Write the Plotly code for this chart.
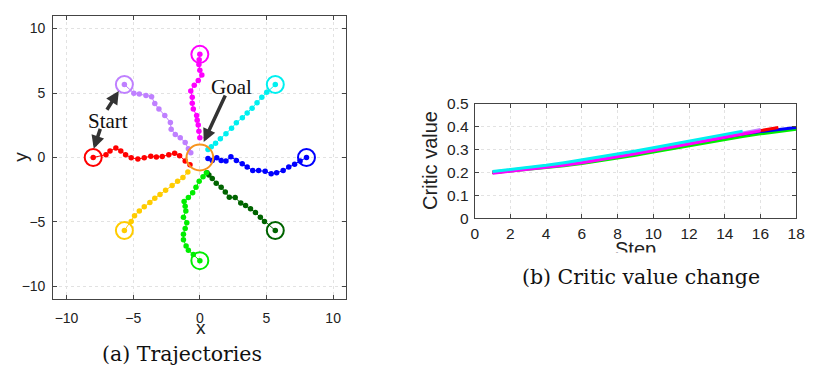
import plotly.graph_objects as go

# ---------------- Trajectory data (a) ----------------
red_x = [-8.0, -7.04, -6.74, -6.30, -5.93, -5.57, -5.15, -4.65, -4.17, -3.68, -3.26, -2.82, -2.33, -1.89, -1.52, -1.10, -0.74]
red_y = [0.0, 0.22, 0.50, 0.74, 0.50, 0.22, -0.02, -0.12, -0.02, 0.10, 0.03, 0.07, 0.22, 0.33, 0.13, -0.27, -0.56]

purple_x = [-5.66, -4.95, -4.54, -4.04, -3.62, -3.38, -3.07, -2.63, -2.21, -2.15, -1.84, -1.47, -1.10, -0.86, -0.68]
purple_y = [5.66, 4.99, 4.92, 4.81, 4.72, 4.18, 3.76, 3.26, 2.72, 2.20, 1.78, 1.53, 1.16, 0.67, 0.37]

magenta_x = [0.0, -0.05, -0.07, 0.0, 0.15, -0.12, -0.42, -0.68, -0.57, -0.57, -0.49, -0.24, -0.20, -0.12, -0.07, 0.0]
magenta_y = [8.0, 7.58, 7.21, 6.77, 6.40, 5.98, 5.61, 5.16, 4.67, 4.20, 3.76, 3.26, 2.89, 2.52, 2.03, 1.53]

cyan_x = [5.66, 5.02, 4.65, 4.29, 3.92, 3.55, 3.19, 2.74, 2.38, 1.96, 1.54, 1.18, 0.86, 0.61]
cyan_y = [5.66, 5.07, 4.67, 4.25, 3.83, 3.46, 3.09, 2.70, 2.27, 1.85, 1.46, 1.11, 0.84, 0.62]

blue_x = [8.0, 7.52, 7.11, 6.67, 6.25, 5.76, 5.35, 4.90, 4.41, 3.97, 3.55, 3.18, 2.74, 2.33, 1.96, 1.60, 1.27, 0.93, 0.61]
blue_y = [0.0, -0.27, -0.52, -0.74, -1.01, -1.19, -1.26, -1.06, -1.01, -1.01, -0.74, -0.49, -0.24, 0.05, -0.27, -0.24, -0.02, -0.24, -0.07]

darkgreen_x = [5.66, 4.85, 4.54, 4.17, 3.80, 3.43, 3.07, 2.65, 2.21, 1.91, 1.60, 1.23, 0.93, 0.68, 0.54]
darkgreen_y = [-5.66, -4.96, -4.64, -4.27, -3.97, -3.73, -3.53, -3.11, -3.08, -2.67, -2.30, -2.00, -1.63, -1.36, -1.19]

green_x = [0.0, -0.49, -0.86, -1.03, -1.23, -1.23, -1.10, -0.98, -1.23, -1.05, -1.10, -1.18, -0.86, -0.54, -0.29, -0.05, 0.24, 0.49]
green_y = [-8.0, -7.53, -7.19, -6.86, -6.37, -5.95, -5.50, -5.06, -4.64, -4.15, -3.78, -3.41, -3.11, -2.74, -2.30, -1.85, -1.50, -1.19]

gold_x = [-5.66, -5.15, -4.90, -4.54, -4.17, -3.75, -3.38, -2.99, -2.57, -2.08, -1.67, -1.27, -0.90]
gold_y = [-5.66, -4.96, -4.52, -4.15, -3.82, -3.48, -3.16, -2.86, -2.54, -2.17, -1.85, -1.56, -1.13]

# ---------------- Critic value data (b) ----------------
critic_gold = [0.202, 0.210, 0.218, 0.227, 0.237, 0.248, 0.260, 0.273, 0.287, 0.301, 0.315, 0.329, 0.343]
critic_darkgreen = [0.200, 0.208, 0.216, 0.225, 0.235, 0.246, 0.258, 0.271, 0.284, 0.298, 0.312, 0.326, 0.340, 0.354, 0.367]
critic_blue = [0.201, 0.209, 0.217, 0.226, 0.236, 0.247, 0.259, 0.272, 0.286, 0.300, 0.314, 0.328, 0.342, 0.355, 0.368, 0.379, 0.389, 0.397]
critic_green = [0.199, 0.206, 0.213, 0.221, 0.230, 0.240, 0.251, 0.263, 0.276, 0.290, 0.304, 0.318, 0.331, 0.344, 0.357, 0.369, 0.380, 0.389]
critic_red = [0.200, 0.208, 0.216, 0.225, 0.235, 0.246, 0.258, 0.271, 0.285, 0.299, 0.313, 0.328, 0.342, 0.356, 0.370, 0.384, 0.397]
critic_purple = [0.203, 0.211, 0.219, 0.228, 0.238, 0.249, 0.261, 0.274, 0.288, 0.302, 0.317, 0.331, 0.345, 0.359, 0.373, 0.388]
critic_magenta = [0.197, 0.205, 0.213, 0.222, 0.232, 0.243, 0.255, 0.268, 0.282, 0.296, 0.311, 0.326, 0.340, 0.354, 0.368, 0.382]
critic_cyan = [0.205, 0.213, 0.222, 0.232, 0.243, 0.255, 0.267, 0.280, 0.294, 0.308, 0.322, 0.336, 0.350, 0.365, 0.381]

x_ticks_a = [-10, -5, 0, 5, 10]
x_ticks_b = [0, 2, 4, 6, 8, 10, 12, 14, 16, 18]
y_ticks_b = [0, 0.1, 0.2, 0.3, 0.4, 0.5]

COL = {
    "red": "#ff0000", "purple": "#bf80ff", "magenta": "#ff00ff", "cyan": "#00f0f0",
    "blue": "#0000ff", "darkgreen": "#006400", "green": "#00ee00", "gold": "#ffcc00",
}

trajs = [
    ("red", red_x, red_y), ("purple", purple_x, purple_y), ("magenta", magenta_x, magenta_y),
    ("cyan", cyan_x, cyan_y), ("blue", blue_x, blue_y), ("darkgreen", darkgreen_x, darkgreen_y),
    ("green", green_x, green_y), ("gold", gold_x, gold_y),
]

fig = go.Figure()

for name, xs, ys in trajs:
    c = COL[name]
    fig.add_trace(go.Scatter(x=xs, y=ys, mode="lines+markers", xaxis="x", yaxis="y",
                             line=dict(color=c, width=1), marker=dict(color=c, size=5.5),
                             showlegend=False, hoverinfo="skip"))
    fig.add_trace(go.Scatter(x=xs[:1], y=ys[:1], mode="markers", xaxis="x", yaxis="y",
                             marker=dict(symbol="circle-open-dot", color=c, size=17,
                                         line=dict(color=c, width=2)),
                             showlegend=False, hoverinfo="skip"))

critics = [
    ("gold", critic_gold), ("darkgreen", critic_darkgreen), ("green", critic_green),
    ("blue", critic_blue), ("red", critic_red), ("purple", critic_purple),
    ("magenta", critic_magenta), ("cyan", critic_cyan),
]
for name, vals in critics:
    fig.add_trace(go.Scatter(x=list(range(1, len(vals) + 1)), y=vals, mode="lines",
                             xaxis="x2", yaxis="y2", line=dict(color=COL[name], width=3),
                             showlegend=False, hoverinfo="skip"))

W, H = 819, 378
axis_common = dict(showline=True, linecolor="#444", linewidth=1, mirror="ticks",
                   ticks="inside", ticklen=4, tickcolor="#444", showgrid=True,
                   gridcolor="#e2e2e2", griddash="dot", gridwidth=1, zeroline=False)

fig.update_layout(
    width=W, height=H, margin=dict(l=0, r=0, t=0, b=0),
    paper_bgcolor="white", plot_bgcolor="white",
    font=dict(family="Liberation Sans", color="#222"),
    xaxis=dict(domain=[50 / W, 348 / W], range=[-11, 11], tickvals=x_ticks_a,
               tickfont=dict(size=14), ticklabelstandoff=6, anchor="y", **axis_common),
    yaxis=dict(domain=[1 - 304 / H, 1 - 7 / H], range=[-11, 11], tickvals=x_ticks_a,
               tickfont=dict(size=14), ticklabelstandoff=4, anchor="x", **axis_common),
    xaxis2=dict(domain=[478.3 / W, 805 / W], range=[0, 18], tickvals=x_ticks_b,
                tickfont=dict(size=15.5), ticklabelstandoff=1, anchor="y2", **axis_common),
    yaxis2=dict(domain=[1 - 219.3 / H, 1 - 99.3 / H], range=[0, 0.5], tickvals=y_ticks_b,
                tickfont=dict(size=15.5), ticklabelstandoff=2, anchor="x2", **axis_common),
)

# goal circle
fig.add_shape(type="circle", xref="x", yref="y", x0=-1, x1=1, y0=-1, y1=1,
              line=dict(color="#f7941d", width=2))

def px(xp, yp):
    return dict(x=xp / W, y=1 - yp / H, xref="paper", yref="paper",
                xanchor="center", yanchor="middle")

serif = dict(family="Liberation Serif", size=21, color="#111")
cap = dict(family="DejaVu Serif", size=20.5, color="#111")
ann = []
# arrows
for (tx, ty, hx, hy) in [(-7.43, 2.34, -7.96, 0.67), (-7.04, 3.59, -6.08, 5.16), (1.96, 4.92, 0.29, 1.21)]:
    ann.append(dict(x=hx, y=hy, ax=tx, ay=ty, xref="x", yref="y", axref="x", ayref="y",
                    text="", showarrow=True, arrowhead=2, arrowsize=0.75, arrowwidth=3.5,
                    arrowcolor="#333"))
ann.append(dict(x=-6.86, y=2.84, xref="x", yref="y", xanchor="center", yanchor="middle",
                text="Start", showarrow=False, font=serif))
ann.append(dict(x=2.38, y=5.47, xref="x", yref="y", xanchor="center", yanchor="middle",
                text="Goal", showarrow=False, font=serif))
# axis titles
ann.append(dict(**px(200, 334), text="x", showarrow=False, font=dict(size=19)))
ann.append(dict(**px(16, 155), text="y", showarrow=False, textangle=-90, font=dict(size=19)))
ann.append(dict(**px(433, 159), text="Critic value", showarrow=False, textangle=-90, font=dict(size=20)))
ann.append(dict(**px(642, 251), text="Step", showarrow=False, font=dict(size=20)))
# captions
ann.append(dict(**px(181, 361), text="(a) Trajectories", showarrow=False, font=cap))
ann.append(dict(**px(647, 281), text="(b) Critic value change", showarrow=False, font=cap,
                bgcolor="white", height=48, width=270, borderpad=0))
fig.update_layout(annotations=ann)

fig.write_html("out.html")
